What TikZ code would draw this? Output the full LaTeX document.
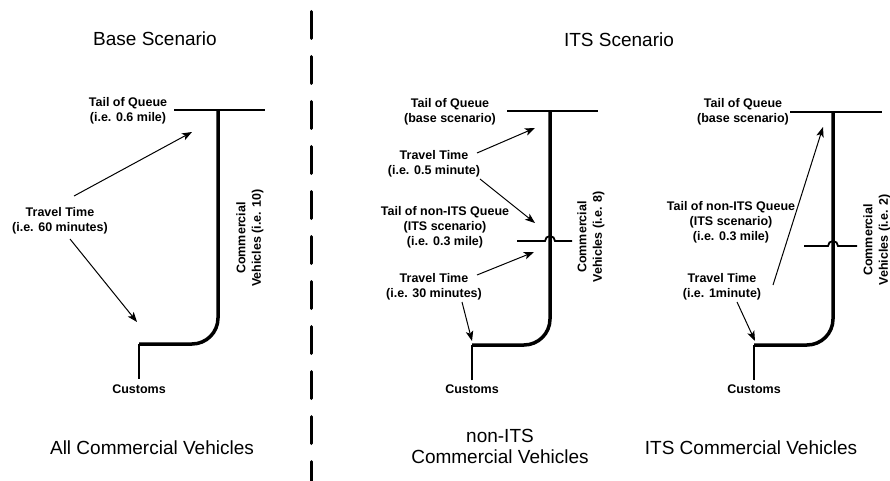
\documentclass[tikz,border=0pt]{standalone}
\usepackage{fontspec}
\setmainfont{Liberation Sans}
\usetikzlibrary{arrows.meta}
\begin{document}
\begin{tikzpicture}[x=1pt,y=-1pt,
  lab/.style={font=\fontsize{12.5}{15}\selectfont\bfseries, align=center, inner sep=0pt, anchor=base},
  ttl/.style={font=\fontsize{19}{21}\selectfont, align=center, inner sep=0pt, anchor=base},
  vlab/.style={font=\fontsize{12.5}{15.5}\selectfont\bfseries, align=center, inner sep=0pt, rotate=90},
  road/.style={line width=3.5pt, rounded corners=26pt},
  thinln/.style={line width=1.8pt},
  arr/.style={line width=1pt, -{Stealth[length=10pt,width=7.5pt,inset=2.5pt]}},
  divider/.style={line width=3pt, line cap=round, dash pattern=on 27pt off 18pt}]
\useasboundingbox (0,0) rectangle (890,481);
\fill[white] (0,0) rectangle (890,481);

% divider
\coordinate (dtop) at (311,11.5);
\coordinate (dbot) at (311,481);
\draw[divider] (dtop) -- (dbot);

% titles (base anchor = baseline of last line)
\node[ttl] (t1) at (155,46) {Base Scenario};
\node[ttl] (t2) at (619,47) {ITS Scenario};
\node[ttl] (b1) at (152,454) {All Commercial Vehicles};
\node[ttl] (b2) at (500,463) {non-ITS\\Commercial Vehicles};
\node[ttl] (b3) at (751,454) {ITS Commercial Vehicles};

% ---------- panel 1 ----------
\coordinate (p1a) at (174,110);
\coordinate (p1b) at (265,110);
\coordinate (p1c) at (218,110);
\coordinate (p1d) at (218,344);
\coordinate (p1e) at (139,344);
\coordinate (p1f) at (139,379);
\draw[thinln] (p1a) -- (p1b);
\draw[road] (p1c) -- (p1d) -- (p1e);
\draw[thinln] (p1e) -- (p1f);
\node[lab] (q1) at (128,122) {Tail of Queue\\(i.e. 0.6 mile)};
\node[lab] (tt1) at (60,231) {Travel Time\\(i.e. 60 minutes)};
\node[lab] (c1) at (139,393) {Customs};
\node[vlab] (v1) at (250,238) {Commercial\\Vehicles (i.e. 10)};
\coordinate (a1s) at (74,196);
\coordinate (a1e) at (192,132);
\coordinate (a2s) at (70,239);
\coordinate (a2e) at (137,322);
\draw[arr] (a1s) -- (a1e);
\draw[arr] (a2s) -- (a2e);

% ---------- panel 2 ----------
\coordinate (p2a) at (507,111);
\coordinate (p2b) at (598,111);
\coordinate (p2c) at (550,111);
\coordinate (p2d) at (550,345);
\coordinate (p2e) at (472,345);
\coordinate (p2f) at (472,380);
\draw[thinln] (p2a) -- (p2b);
\draw[road] (p2c) -- (p2d) -- (p2e);
\draw[thinln] (p2e) -- (p2f);
\coordinate (h2a) at (517,241);
\coordinate (h2b) at (545,241);
\coordinate (h2c) at (572,241);
\draw[thinln] (h2a) -- (h2b) arc[start angle=180,end angle=0,radius=5pt] -- (h2c);
\node[lab] (q2) at (450,123) {Tail of Queue\\(base scenario)};
\node[lab] (tt2) at (434,175) {Travel Time\\(i.e. 0.5 minute)};
\node[lab] (n2) at (445,245) {Tail of non-ITS Queue\\(ITS scenario)\\(i.e. 0.3 mile)};
\node[lab] (tt3) at (434,297) {Travel Time\\(i.e. 30 minutes)};
\node[lab] (c2) at (472,393) {Customs};
\node[vlab] (v2) at (591,237) {Commercial\\Vehicles (i.e. 8)};
\coordinate (a3s) at (477,153);
\coordinate (a3e) at (535,128);
\coordinate (a4s) at (480,179);
\coordinate (a4e) at (535,223);
\coordinate (a5s) at (477,275);
\coordinate (a5e) at (534,252);
\coordinate (a6s) at (462,302);
\coordinate (a6e) at (472,341);
\draw[arr] (a3s) -- (a3e);
\draw[arr] (a4s) -- (a4e);
\draw[arr] (a5s) -- (a5e);
\draw[arr] (a6s) -- (a6e);

% ---------- panel 3 ----------
\coordinate (p3a) at (790,112);
\coordinate (p3b) at (882,112);
\coordinate (p3c) at (833,112);
\coordinate (p3d) at (833,345);
\coordinate (p3e) at (754,345);
\coordinate (p3f) at (754,380);
\draw[thinln] (p3a) -- (p3b);
\draw[road] (p3c) -- (p3d) -- (p3e);
\draw[thinln] (p3e) -- (p3f);
\coordinate (h3a) at (804,246);
\coordinate (h3b) at (828,246);
\coordinate (h3c) at (857,246);
\draw[thinln] (h3a) -- (h3b) arc[start angle=180,end angle=0,radius=5pt] -- (h3c);
\node[lab] (q3) at (743,123) {Tail of Queue\\(base scenario)};
\node[lab] (n3) at (731,240) {Tail of non-ITS Queue\\(ITS scenario)\\(i.e. 0.3 mile)};
\node[lab] (tt4) at (722,297) {Travel Time\\(i.e. 1minute)};
\node[lab] (c3) at (754,393) {Customs};
\node[vlab] (v3) at (877,240) {Commercial\\Vehicles (i.e. 2)};
\coordinate (a7s) at (773,285);
\coordinate (a7e) at (823,127);
\coordinate (a8s) at (737,302);
\coordinate (a8e) at (755,341);
\draw[arr] (a7s) -- (a7e);
\draw[arr] (a8s) -- (a8e);
\end{tikzpicture}
\end{document}
